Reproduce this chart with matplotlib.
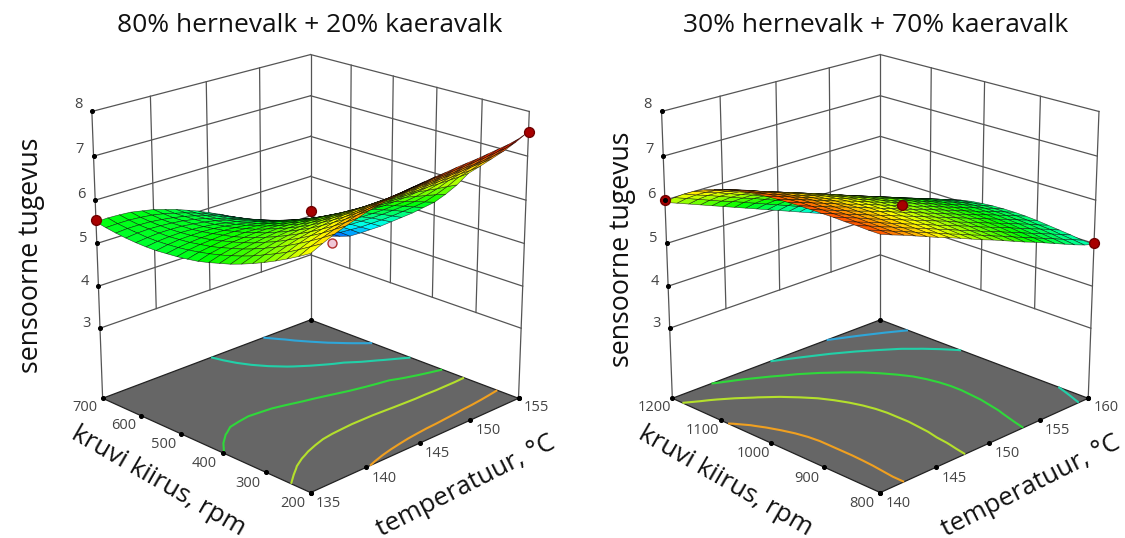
import numpy as np
import matplotlib
matplotlib.use('Agg')
from matplotlib import pyplot as plt
from matplotlib.colors import LinearSegmentedColormap
from mpl_toolkits.mplot3d import proj3d

plt.rcParams['font.family'] = ['Open Sans', 'DejaVu Sans']

# surface heights x100: rows go along rpm, columns along temperature
z_left = [
    [650, 662, 673, 682, 690, 698, 704, 709, 713, 717, 720, 723, 725, 728, 730, 732, 735, 738, 741, 746, 755],
    [635, 647, 657, 666, 673, 680, 685, 690, 694, 697, 700, 702, 704, 705, 707, 709, 711, 713, 716, 719, 725],
    [621, 632, 642, 650, 657, 663, 668, 672, 675, 678, 680, 682, 683, 684, 685, 686, 688, 689, 691, 694, 697],
    [608, 618, 628, 636, 642, 648, 652, 655, 658, 660, 661, 662, 663, 664, 664, 665, 666, 667, 669, 670, 672],
    [596, 606, 615, 622, 628, 633, 637, 640, 642, 643, 644, 644, 644, 644, 644, 644, 644, 644, 645, 645, 647],
    [585, 595, 603, 610, 615, 619, 623, 625, 626, 627, 627, 627, 626, 625, 624, 623, 623, 622, 622, 622, 623],
    [575, 584, 592, 598, 603, 607, 609, 611, 612, 612, 611, 610, 609, 608, 606, 604, 603, 599, 595, 592, 588],
    [566, 575, 582, 588, 592, 595, 597, 598, 598, 598, 597, 595, 593, 591, 588, 586, 583, 577, 571, 565, 558],
    [559, 567, 573, 578, 582, 585, 586, 586, 586, 585, 583, 580, 578, 575, 571, 568, 565, 557, 549, 540, 531],
    [552, 560, 566, 570, 573, 575, 576, 576, 574, 572, 570, 567, 563, 559, 555, 551, 547, 539, 530, 520, 510],
    [546, 554, 559, 563, 565, 567, 567, 566, 564, 561, 558, 554, 550, 545, 540, 535, 531, 521, 512, 501, 489],
    [542, 549, 553, 557, 558, 559, 558, 557, 554, 551, 547, 542, 537, 532, 526, 520, 515, 504, 494, 482, 470],
    [539, 545, 549, 551, 553, 553, 551, 549, 546, 542, 537, 531, 525, 519, 513, 506, 500, 488, 477, 464, 451],
    [537, 542, 545, 547, 548, 547, 545, 542, 538, 533, 528, 521, 515, 508, 500, 493, 485, 473, 461, 447, 432],
    [535, 540, 543, 544, 544, 543, 540, 536, 531, 526, 519, 512, 505, 497, 489, 480, 472, 458, 445, 430, 415],
    [535, 539, 541, 542, 541, 539, 536, 531, 526, 519, 512, 504, 496, 487, 478, 468, 459, 445, 431, 415, 398],
    [536, 539, 541, 541, 540, 537, 533, 528, 521, 514, 506, 497, 488, 478, 468, 458, 447, 432, 417, 400, 382],
    [538, 541, 542, 541, 539, 536, 531, 525, 517, 509, 500, 491, 481, 470, 459, 448, 436, 421, 405, 389, 373],
    [541, 543, 543, 542, 539, 535, 530, 523, 515, 506, 496, 486, 474, 463, 451, 438, 426, 410, 396, 381, 365],
    [545, 546, 546, 544, 541, 536, 529, 522, 513, 503, 493, 481, 469, 456, 443, 430, 417, 403, 389, 376, 363],
    [550, 551, 550, 548, 543, 538, 530, 522, 512, 502, 490, 478, 465, 451, 437, 422, 408, 393, 379, 364, 350],
]
z_right = [
    [690, 680, 671, 661, 651, 641, 632, 622, 612, 602, 593, 583, 573, 563, 554, 544, 534, 524, 514, 505, 498],
    [690, 681, 671, 662, 652, 643, 633, 623, 614, 604, 595, 585, 576, 566, 556, 547, 537, 528, 518, 509, 499],
    [691, 682, 672, 663, 653, 644, 635, 625, 616, 606, 597, 587, 578, 569, 559, 550, 540, 531, 522, 512, 503],
    [691, 682, 673, 664, 654, 645, 636, 627, 617, 608, 599, 590, 580, 571, 562, 553, 543, 534, 525, 516, 506],
    [692, 683, 674, 664, 655, 646, 637, 628, 619, 610, 601, 591, 582, 573, 564, 555, 546, 537, 528, 518, 509],
    [692, 683, 674, 665, 656, 647, 638, 629, 620, 611, 602, 593, 584, 575, 566, 557, 548, 539, 530, 521, 512],
    [692, 683, 674, 665, 656, 648, 639, 630, 621, 612, 603, 594, 585, 576, 567, 558, 550, 541, 532, 523, 514],
    [692, 683, 674, 665, 657, 648, 639, 630, 621, 612, 603, 595, 586, 577, 568, 559, 550, 542, 533, 524, 515],
    [691, 683, 674, 665, 656, 647, 639, 630, 621, 612, 603, 594, 586, 577, 568, 559, 550, 542, 533, 524, 515],
    [690, 681, 673, 664, 655, 646, 638, 629, 620, 611, 603, 593, 585, 576, 567, 558, 549, 541, 532, 523, 514],
    [688, 680, 671, 662, 653, 644, 636, 627, 618, 609, 600, 591, 583, 574, 565, 556, 547, 539, 530, 521, 512],
    [686, 677, 668, 659, 650, 642, 633, 624, 615, 606, 597, 588, 580, 571, 562, 553, 544, 535, 526, 518, 509],
    [682, 673, 665, 656, 647, 638, 629, 620, 611, 602, 593, 584, 575, 566, 557, 548, 539, 531, 522, 513, 504],
    [678, 669, 660, 651, 642, 633, 624, 615, 606, 597, 587, 578, 569, 560, 551, 542, 533, 524, 515, 506, 497],
    [672, 663, 654, 644, 635, 626, 617, 608, 599, 589, 580, 571, 562, 553, 544, 535, 525, 516, 507, 498, 489],
    [664, 655, 646, 636, 627, 618, 609, 599, 590, 581, 572, 562, 553, 544, 534, 525, 516, 507, 497, 488, 479],
    [655, 646, 636, 627, 617, 608, 598, 589, 580, 570, 561, 551, 542, 533, 523, 514, 504, 495, 485, 476, 467],
    [644, 634, 625, 615, 605, 596, 586, 577, 567, 558, 548, 538, 529, 519, 510, 500, 491, 481, 471, 462, 452],
    [630, 620, 611, 601, 591, 581, 572, 562, 552, 543, 533, 523, 513, 504, 494, 484, 475, 465, 455, 445, 436],
    [614, 604, 594, 584, 574, 565, 555, 545, 535, 525, 515, 505, 496, 486, 476, 466, 456, 446, 436, 426, 417],
    [595, 585, 575, 565, 555, 545, 535, 525, 515, 505, 495, 485, 475, 465, 455, 445, 435, 425, 415, 405, 395],
]

temp_left = [135, 140, 145, 150, 155]
rpm_left = [200, 300, 400, 500, 600, 700]
temp_right = [140, 145, 150, 155, 160]
rpm_right = [800, 900, 1000, 1100, 1200]
z_ticks = [3, 4, 5, 6, 7, 8]
z_floor = 1.3

levels_left = [4.2, 4.9, 5.6, 6.25, 7.0]
levels_right = [4.5, 5.05, 5.6, 6.15, 6.7]
line_colors = ['#2fa6d8', '#22d0a8', '#2fd83a', '#b4e02c', '#f0a020']

pts_left = ([135, 155, 145], [700, 200, 450], [5.55, 7.55, 5.75])
pts_right = ([140, 160, 151], [1200, 800, 980], [6.0, 5.0, 5.9])
hollow_left = ([146], [425], [5.0])

surf_cmap = LinearSegmentedColormap.from_list(
    'rs', [(0, '#0000ff'), (0.25, '#00ffff'), (0.5, '#00ff00'), (0.75, '#ffff00'), (1, '#ff0000')])
GRID = '#555555'
TICK = '#444444'


def panel(rect, temps, rpms, Z, levels, pts, vmax, hollow=None):
    Z = np.array(Z)/100
    ax = fig.add_axes(rect, projection='3d', computed_zorder=False)
    ax.set_axis_off()
    ax.patch.set_alpha(0)
    x0, x1 = temps[0], temps[-1]
    y0, y1 = rpms[0], rpms[-1]
    ax.set_xlim(x0, x1, view_margin=0)
    ax.set_ylim(y0, y1, view_margin=0)
    ax.set_zlim(z_floor, 8, view_margin=0)
    ax.set_box_aspect((1, 1, 1.015), zoom=0.947)
    ax.set_proj_type('persp', focal_length=0.73)
    ax.view_init(elev=20.5, azim=225)

    # walls
    for z in z_ticks:
        ax.plot([x0, x1], [y1, y1], [z, z], color=GRID, lw=0.9, zorder=1)
        ax.plot([x1, x1], [y0, y1], [z, z], color=GRID, lw=0.9, zorder=1)
    for t in temps[1:-1]:
        ax.plot([t, t], [y1, y1], [3, 8], color=GRID, lw=0.9, zorder=1)
    for r in rpms[1:-1]:
        ax.plot([x1, x1], [r, r], [3, 8], color=GRID, lw=0.9, zorder=1)
    ax.plot([x0, x0], [y1, y1], [z_floor, 8], color=GRID, lw=0.9, zorder=1)
    ax.plot([x1, x1], [y1, y1], [z_floor, 8], color=GRID, lw=0.9, zorder=1)
    ax.plot([x1, x1], [y0, y0], [z_floor, 8], color=GRID, lw=0.9, zorder=1)

    # floor
    fx, fy = np.meshgrid([x0, x1], [y0, y1])
    ax.plot_surface(fx, fy, np.full(fx.shape, z_floor), color='#666666', shade=False, zorder=2, edgecolor='none')
    ax.plot([x0, x1, x1, x0, x0], [y0, y0, y1, y1, y0], [z_floor]*5, color='#222222', lw=0.9, zorder=3)

    X, Y = np.meshgrid(np.linspace(x0, x1, Z.shape[1]), np.linspace(y0, y1, Z.shape[0]))
    ax.contour(X, Y, Z, levels=levels, colors=line_colors, linewidths=1.5, zdir='z', offset=z_floor, zorder=4)

    if hollow:
        ax.scatter(*hollow, s=42, c='#f0c8d8', edgecolors='#b03030', depthshade=False, zorder=5)

    norm = plt.Normalize(Z.min(), vmax)
    ax.plot_surface(X, Y, Z, facecolors=surf_cmap(norm(Z)), rstride=1, cstride=1, shade=False,
                    edgecolor=(0, 0, 0, 0.72), linewidth=0.4, zorder=6)
    ax.scatter(*pts, s=50, c='#a80000', edgecolors='#700000', depthshade=False, zorder=7)

    # ticks
    ax.scatter([x0]*len(z_ticks), [y1]*len(z_ticks), z_ticks, s=7, c='k', depthshade=False, zorder=8)
    ax.scatter(temps, [y0]*len(temps), [z_floor]*len(temps), s=7, c='k', depthshade=False, zorder=8)
    ax.scatter([x0]*len(rpms), rpms, [z_floor]*len(rpms), s=7, c='k', depthshade=False, zorder=8)
    ax.scatter([x1, x1], [y0, y1], [z_floor, z_floor], s=7, c='k', depthshade=False, zorder=8)

    M = ax.get_proj()
    def tick_text(x, y, z, s):
        px, py, _ = proj3d.proj_transform(x, y, z, M)
        ax.text2D(px, py, s, transform=ax.transData, ha='center', va='center', fontsize=10.5, color=TICK)

    dt = (x1-x0)*0.1
    dr = (y1-y0)*0.1
    for z in z_ticks:
        tick_text(x0-dt*0.55, y1, z+0.22, str(z))
    for t in temps:
        tick_text(t, y0-dr*0.78, z_floor-0.07, str(t))
    for r in rpms:
        tick_text(x0-dt*0.78, r, z_floor-0.07, str(r))
    return ax


fig = plt.figure(figsize=(11.25, 5.38), dpi=100, facecolor='white')
panel([0.0196, 0.006, 0.5, 1], temp_left, rpm_left, z_left, levels_left, pts_left, 7.55, hollow_left)
panel([0.526, 0.006, 0.5, 1], temp_right, rpm_right, z_right, levels_right, pts_right, 7.2)

W, H = 1125.0, 538.0
def label(x, y, s, size, rot=0):
    fig.text(x/W, 1-y/H, s, fontsize=size, rotation=rot, ha='center', va='center',
             rotation_mode='anchor', color='#111111')

label(310, 26, '80% hernevalk + 20% kaeravalk', 19)
label(876, 26, '30% hernevalk + 70% kaeravalk', 19)
label(31, 255, 'sensoorne tugevus', 19.2, 90)
label(622, 249, 'sensoorne tugevus', 19.2, 90)
label(158, 481, 'kruvi kiirus, rpm', 18.7, -30)
label(725, 481, 'kruvi kiirus, rpm', 18.7, -30)
label(466, 486, 'temperatuur, °C', 18.7, 27)
label(1031, 486, 'temperatuur, °C', 18.7, 27)

fig.savefig('out.png', dpi=100)
